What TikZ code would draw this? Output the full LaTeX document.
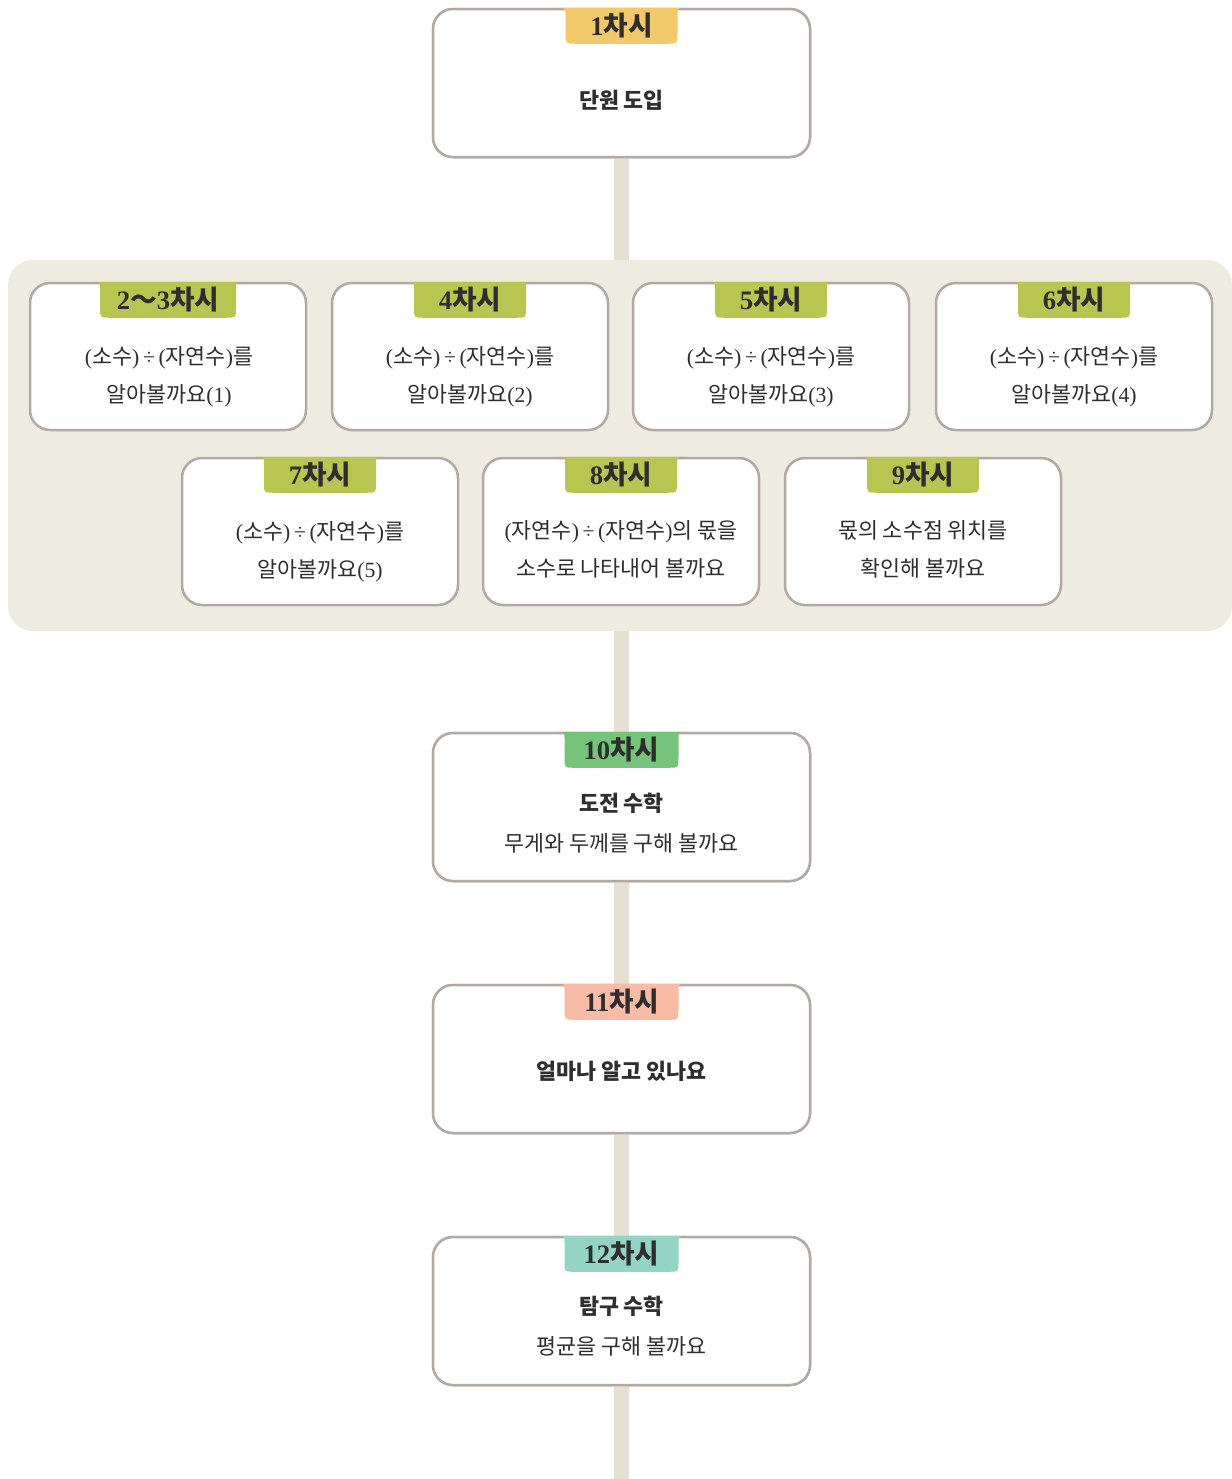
\documentclass[tikz,border=0pt]{standalone}
\usepackage{fontspec}
\setmainfont{Noto Sans CJK KR}
\newfontfamily\srf{Liberation Serif}
\newcommand\sr[1]{{\srf #1}}
\definecolor{boxline}{HTML}{B3A8A3}
\definecolor{panelc}{HTML}{EEEBE1}
\definecolor{spinec}{HTML}{E6E0D3}
\definecolor{tyellow}{HTML}{F2C96A}
\definecolor{tolive}{HTML}{B8C551}
\definecolor{tgreen}{HTML}{76C37A}
\definecolor{tsalmon}{HTML}{F8BBA6}
\definecolor{tteal}{HTML}{93D4C4}
\definecolor{txt}{HTML}{2E2E2E}
\newcommand\tabon[5]{%
  \begin{scope}[shift={(#1.north)}]
    \fill[#3] (-#2-8,0) .. controls (-#2,0) .. (-#2,7) -- (-#2,26)
      .. controls (-#2,36) .. (-#2+10,36) -- (#2-10,36)
      .. controls (#2,36) .. (#2,26) -- (#2,7)
      .. controls (#2,0) .. (#2+8,0) -- cycle;
    \node[tabtxt] (#5) at (0,18) {#4};
  \end{scope}}
\begin{document}
\begin{tikzpicture}[x=0.75pt,y=-0.75pt,
  box/.style={draw=boxline, line width=2.5*0.75pt, fill=white, rounded corners=20*0.75pt, inner sep=0pt},
  bigbox/.style={box, minimum width=377*0.75pt, minimum height=148*0.75pt},
  smallbox/.style={box, minimum width=276*0.75pt, minimum height=147*0.75pt},
  tabtxt/.style={font=\bfseries\fontsize{20}{22}\selectfont, text=txt, inner sep=0pt},
  body/.style={font=\fontsize{16.3}{28.5}\selectfont, align=center, text=txt, inner sep=0pt},
  head/.style={font=\bfseries\fontsize{16.3}{18}\selectfont, text=txt, inner sep=0pt},
  spine/.style={draw=spinec, line width=15*0.75pt}]
\useasboundingbox (0,0) rectangle (1232,1479);

\coordinate (endc) at (621.5,1479);
\node[bigbox] (b1) at (621.5,83) {};
\node[bigbox] (b10) at (621.5,807) {};
\node[bigbox] (b11) at (621.5,1059) {};
\node[bigbox] (b12) at (621.5,1311) {};
% spine
\draw[spine] (b1.south) -- (b10.north);
\draw[spine] (b10.south) -- (b11.north);
\draw[spine] (b11.south) -- (b12.north);
\draw[spine] (b12.south) -- (endc);
% redraw big boxes over spine
\node[bigbox] at (b1) {};
\node[bigbox] at (b10) {};
\node[bigbox] at (b11) {};
\node[bigbox] at (b12) {};

% panel
\fill[panelc, rounded corners=25*0.75pt] (8,260) rectangle (1232,631);

% row boxes
\node[smallbox] (b2) at (168,356.5) {};
\node[smallbox] (b4) at (470,356.5) {};
\node[smallbox] (b5) at (771,356.5) {};
\node[smallbox] (b6) at (1074,356.5) {};
\node[smallbox] (b7) at (320,531.5) {};
\node[smallbox] (b8) at (621,531.5) {};
\node[smallbox] (b9) at (923,531.5) {};

% tabs
\tabon{b1}{56}{tyellow}{\sr{1}차시}{l1}
\tabon{b2}{68}{tolive}{\sr{2}～\sr{3}차시}{l2}
\tabon{b4}{56}{tolive}{\sr{4}차시}{l4}
\tabon{b5}{56}{tolive}{\sr{5}차시}{l5}
\tabon{b6}{56}{tolive}{\sr{6}차시}{l6}
\tabon{b7}{56}{tolive}{\sr{7}차시}{l7}
\tabon{b8}{56}{tolive}{\sr{8}차시}{l8}
\tabon{b9}{56}{tolive}{\sr{9}차시}{l9}
\tabon{b10}{57}{tgreen}{\sr{10}차시}{l10}
\tabon{b11}{57}{tsalmon}{\sr{11}차시}{l11}
\tabon{b12}{57}{tteal}{\sr{12}차시}{l12}

% texts
\node[head] (h1) at (621.5,100) {단원 도입};
\node[body] (x2) at (169,377) {\sr{(}소수\sr{)}\sr{\,÷\,}\sr{(}자연수\sr{)}를\\알아볼까요\sr{(1)}};
\node[body] (x4) at (470,377) {\sr{(}소수\sr{)}\sr{\,÷\,}\sr{(}자연수\sr{)}를\\알아볼까요\sr{(2)}};
\node[body] (x5) at (771,377) {\sr{(}소수\sr{)}\sr{\,÷\,}\sr{(}자연수\sr{)}를\\알아볼까요\sr{(3)}};
\node[body] (x6) at (1074,377) {\sr{(}소수\sr{)}\sr{\,÷\,}\sr{(}자연수\sr{)}를\\알아볼까요\sr{(4)}};
\node[body] (x7) at (320,552) {\sr{(}소수\sr{)}\sr{\,÷\,}\sr{(}자연수\sr{)}를\\알아볼까요\sr{(5)}};
\node[body] (x8) at (621,549) {\sr{(}자연수\sr{)}\sr{\,÷\,}\sr{(}자연수\sr{)}의 몫을\\소수로 나타내어 볼까요};
\node[body] (x9) at (923,549) {몫의 소수점 위치를\\확인해 볼까요};
\node[head] (h10) at (621.5,803) {도전 수학};
\node[body] (x10) at (621.5,843) {무게와 두께를 구해 볼까요};
\node[head] (h11) at (621.5,1071) {얼마나 알고 있나요};
\node[head] (h12) at (621.5,1306) {탐구 수학};
\node[body] (x12) at (621.5,1346) {평균을 구해 볼까요};
\end{tikzpicture}
\end{document}
